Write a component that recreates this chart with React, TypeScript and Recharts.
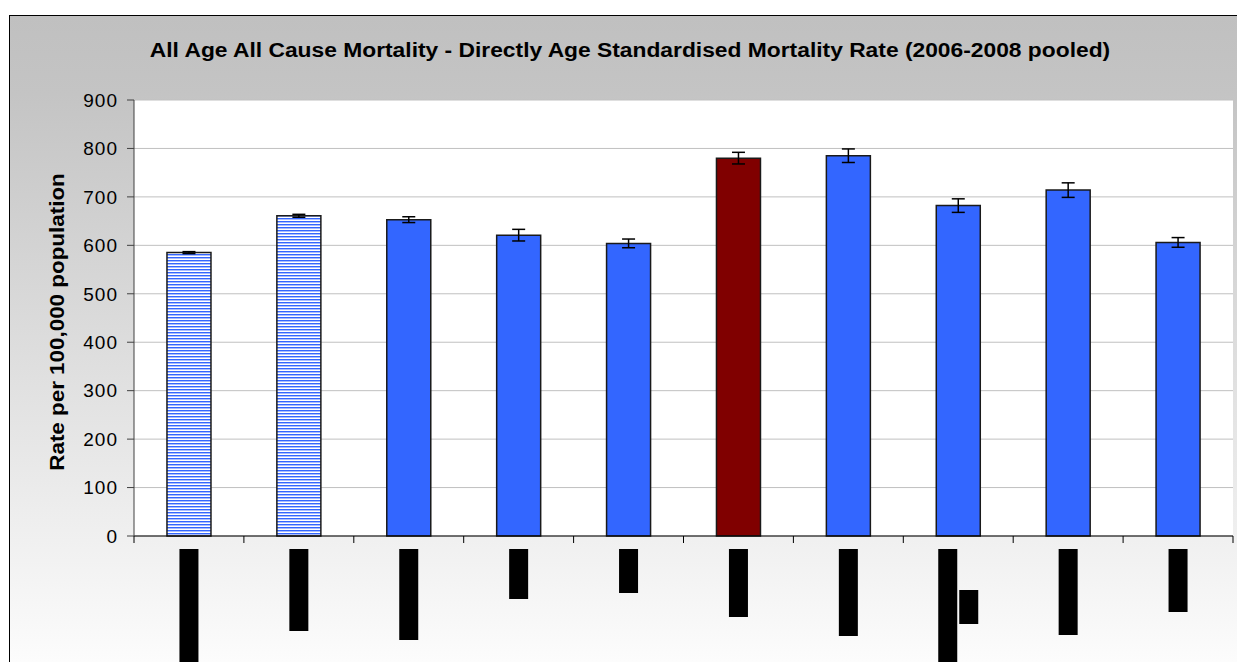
import React from 'react';
import { BarChart, Bar, XAxis, YAxis, CartesianGrid, ErrorBar, Cell } from 'recharts';

// area names are redacted in the source image; the black blocks stand in for them
const categories = ['Area A', 'Area B', 'Area C', 'Area D', 'Area E', 'Area F', 'Area G', 'Area H', 'Area I', 'Area J'];
const rates = [585, 661, 653, 621, 604, 780, 785, 682, 714, 606];
const ciHalfWidth = [2, 3, 6, 12, 9, 12, 14, 14, 15, 10];
// length of each (rotated, blacked-out) label line
const labelLines = [[115], [82], [91], [50], [44], [68], [87], [113, 34], [86], [63]];
const yTicks = [0, 100, 200, 300, 400, 500, 600, 700, 800, 900];

const data = categories.map((name, i) => ({
  name,
  rate: rates[i],
  err: ciHalfWidth[i],
}));

const FONT = 'Arial, "Liberation Sans", sans-serif';

function barFill(i: number) {
  if (i < 2) return 'url(#hstripes)';
  if (i === 5) return '#800000';
  return '#3366ff';
}

function RedactedTick(props: any) {
  const { x, y, payload, index } = props;
  const half = payload && payload.offset ? payload.offset : 55;
  const axisY = y - 13;
  const lines = labelLines[index] || [];
  const lineW = 19;
  const gap = 2;
  const total = lines.length * lineW + (lines.length - 1) * gap;
  const left = x - total / 2;
  return (
    <g>
      <line x1={x - half} x2={x - half} y1={axisY} y2={axisY + 7} stroke="#000" />
      {index === categories.length - 1 && (
        <line x1={x + half} x2={x + half} y1={axisY} y2={axisY + 7} stroke="#000" />
      )}
      {lines.map((len, j) => (
        <rect
          key={j}
          x={left + j * (lineW + gap)}
          y={j === 0 ? y : y + 41}
          width={lineW}
          height={len}
          fill="#000"
        />
      ))}
    </g>
  );
}

export default function App() {
  return (
    <div style={{ position: 'fixed', left: 8, top: 8, width: 1229, height: 654, fontFamily: FONT, overflow: 'hidden' }}>
      <div
        style={{
          position: 'absolute',
          left: 1,
          top: 7,
          right: 0,
          bottom: 0,
          borderLeft: '1px solid #000',
          borderTop: '1px solid #000',
          background: 'linear-gradient(#c0c0c0 0%, #c4c4c4 12%, #fcfcfc 100%)',
        }}
      />
      <div
        style={{
          position: 'absolute',
          left: 622,
          top: 42,
          width: 0,
          height: 0,
        }}
      >
        <div
          style={{
            position: 'absolute',
            transform: 'translate(-50%, -50%) scaleX(1.14)',
            fontWeight: 'bold',
            fontSize: 20,
            color: '#000',
            whiteSpace: 'nowrap',
          }}
        >
          All Age All Cause Mortality - Directly Age Standardised Mortality Rate (2006-2008 pooled)
        </div>
      </div>
      <div
        style={{
          position: 'absolute',
          left: 49,
          top: 314,
          width: 0,
          height: 0,
        }}
      >
        <div
          style={{
            position: 'absolute',
            transform: 'translate(-50%, -50%) rotate(-90deg) scaleX(1.12)',
            fontWeight: 'bold',
            fontSize: 20,
            whiteSpace: 'nowrap',
            color: '#000',
          }}
        >
          Rate per 100,000 population
        </div>
      </div>
      <div style={{ position: 'absolute', left: 0, top: 0 }}>
        <BarChart
          width={1229}
          height={654}
          data={data}
          margin={{ top: 92, right: 4, bottom: 0, left: 66 }}
          barCategoryGap="30%"
        >
          <defs>
            <pattern id="hstripes" patternUnits="userSpaceOnUse" width={4} height={3}>
              <rect x={0} y={0} width={4} height={3} fill="#ffffff" />
              <rect x={0} y={0} width={4} height={1} fill="#3366ff" />
              <rect x={0} y={1} width={4} height={1} fill="#a9bcff" />
            </pattern>
          </defs>
          <CartesianGrid vertical={false} stroke="#c0c0c0" fill="#ffffff" />
          <XAxis
            dataKey="name"
            interval={0}
            height={126}
            tickLine={false}
            tickSize={7}
            tickMargin={6}
            stroke="#000"
            tick={<RedactedTick />}
          />
          <YAxis
            domain={[0, 900]}
            ticks={yTicks}
            interval={0}
            width={60}
            stroke="#404040"
            tickSize={7}
            tickMargin={9}
            tick={{ fill: '#000', fontSize: 19, fontFamily: FONT, letterSpacing: 1 }}
          />
          <YAxis yAxisId="right" orientation="right" width={0} tick={false} stroke="#a0a0a0" />
          <Bar dataKey="rate" stroke="#1a1a1a" strokeWidth={1.5} isAnimationActive={false}>
            {data.map((_, i) => (
              <Cell key={i} fill={barFill(i)} />
            ))}
            <ErrorBar dataKey="err" width={6.5} stroke="#000" strokeWidth={1.5} />
          </Bar>
        </BarChart>
      </div>
    </div>
  );
}
